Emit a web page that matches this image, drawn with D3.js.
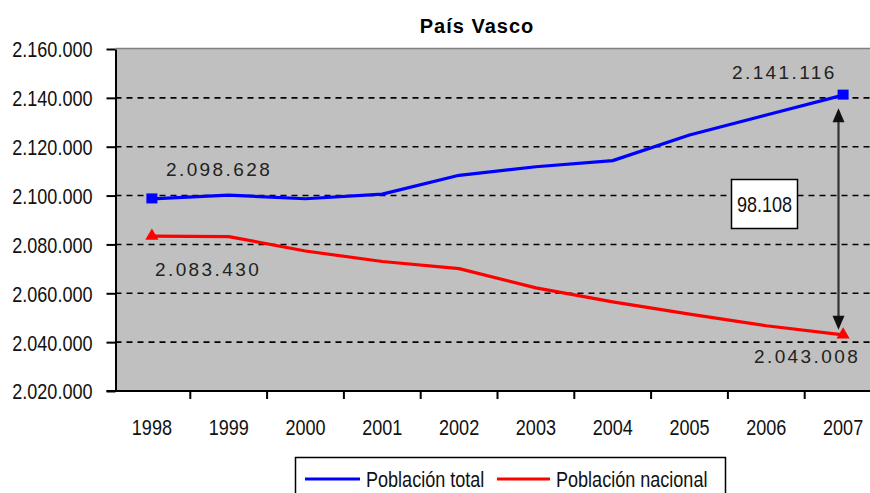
<!DOCTYPE html>
<html><head><meta charset="utf-8">
<script src="https://cdn.jsdelivr.net/npm/d3@7"></script>
<style>
body{margin:0;background:#fff;}
svg{display:block;}
.narrow{font-family:"Liberation Sans",Arial,sans-serif;}
</style></head>
<body><svg id="c" width="870" height="493"></svg>
<script>
const title = "País Vasco";
const years = ["1998","1999","2000","2001","2002","2003","2004","2005","2006","2007"];
const total = [2098628, 2100200, 2098700, 2100600, 2108300, 2111800, 2114300, 2124800, 2133000, 2141116];
const nacional = [2083430, 2083200, 2077300, 2073000, 2070100, 2062200, 2056500, 2051500, 2046700, 2043008];
const yTicks = [2020000, 2040000, 2060000, 2080000, 2100000, 2120000, 2140000, 2160000];
const seriesNames = ["Población total", "Población nacional"];
const seriesColors = ["#0000FF", "#FF0000"];
const diffLabel = "98.108";

(function(){
const loc = d3.formatLocale({decimal:",", thousands:".", grouping:[3], currency:["",""]});
const fmt = loc.format(",d");

const svg = d3.select("#c");
const pLeft = 115.5, pTop = 49, pBottom = 391, pRight = 870;
const NFS = 22, NR = 0.82;

const x = d3.scaleBand().domain(years).range([113.5, 881.5]);
const y = d3.scaleLinear().domain([2020000, 2160000]).range([pBottom, pTop]);
const cx = d => x(d) + x.bandwidth()/2;

// plot area
svg.append("rect").attr("x", pLeft).attr("y", pTop).attr("width", pRight-pLeft).attr("height", pBottom-pTop).attr("fill", "#C0C0C0");
svg.append("line").attr("x1", pLeft).attr("x2", pRight).attr("y1", pTop-0.5).attr("y2", pTop-0.5).attr("stroke", "#808080").attr("stroke-width", 1.5);

// gridlines
svg.append("g").selectAll("line").data(yTicks.filter(t => t > 2020000 && t < 2160000)).join("line")
  .attr("x1", pLeft).attr("x2", pRight)
  .attr("y1", d => y(d)).attr("y2", d => y(d))
  .attr("stroke", "#000").attr("stroke-width", 1.6).attr("stroke-dasharray", "6,5");

// title
svg.append("text").attr("x", 477).attr("y", 33).attr("text-anchor", "middle")
  .attr("font-family", "Liberation Sans, Arial, sans-serif").attr("font-weight", "bold")
  .attr("font-size", 20).attr("letter-spacing", 1).text(title);

// y axis
const yAxis = d3.axisLeft(y).tickValues(yTicks).tickFormat(fmt).tickSize(9).tickSizeOuter(0);
const gy = svg.append("g").attr("transform", `translate(${pLeft},0)`).call(yAxis);
gy.select(".domain").attr("stroke", "#000").attr("stroke-width", 2);
gy.selectAll(".tick line").attr("stroke", "#000").attr("stroke-width", 2);
gy.selectAll(".tick text").attr("class", "narrow").attr("font-size", NFS).attr("fill", "#111")
  .attr("x", -23).attr("dy", "0.36em");

// x axis
const xAxis = d3.axisBottom(x).tickSize(0).tickSizeOuter(0);
const gx = svg.append("g").attr("transform", `translate(0,${pBottom})`).call(xAxis);
gx.select(".domain").remove();
svg.append("line").attr("x1", pLeft-9).attr("x2", pRight).attr("y1", pBottom).attr("y2", pBottom).attr("stroke", "#000").attr("stroke-width", 2);
gx.selectAll(".tick text").attr("class", "narrow").attr("font-size", NFS).attr("fill", "#111").attr("y", 36).attr("dy", "0.36em");
svg.append("g").selectAll("line").data(years.slice(1)).join("line")
  .attr("x1", d => x(d)).attr("x2", d => x(d)).attr("y1", pBottom).attr("y2", pBottom+8)
  .attr("stroke", "#000").attr("stroke-width", 2);

// lines
const line = d3.line().x((d,i) => cx(years[i])).y(d => y(d));
[total, nacional].forEach((s, k) => {
  svg.append("path").datum(s).attr("d", line).attr("fill", "none")
    .attr("stroke", seriesColors[k]).attr("stroke-width", 3.2).attr("stroke-linejoin", "round");
});

// markers at ends
[0, years.length-1].forEach(i => {
  svg.append("rect").attr("x", cx(years[i])-5.5).attr("y", y(total[i])-5.5).attr("width", 11).attr("height", 10).attr("fill", "#0000FF");
  svg.append("path").attr("transform", `translate(${cx(years[i])},${y(nacional[i])})`)
    .attr("d", d3.symbol().type(d3.symbolTriangle).size(75)).attr("fill", "#FF0000");
});

// data labels
const lbl = (tx, ty, t) => svg.append("text").attr("x", tx).attr("y", ty)
  .attr("font-family", "Liberation Sans, Arial, sans-serif").attr("font-size", 19)
  .attr("letter-spacing", 2.4).attr("fill", "#222").text(t);
lbl(166, 176, fmt(total[0]));
lbl(155, 276, fmt(nacional[0]));
lbl(732, 79, fmt(total[9]));
lbl(754, 363, fmt(nacional[9]));

// difference arrow
const ax = 838.5, ay1 = y(total[9]) + 13, ay2 = y(nacional[9]) - 5;
svg.append("line").attr("x1", ax).attr("x2", ax).attr("y1", ay1+10).attr("y2", ay2-10).attr("stroke", "#333").attr("stroke-width", 2.2);
svg.append("path").attr("d", `M${ax},${ay1} L${ax-6},${ay1+14} L${ax+6},${ay1+14}Z`).attr("fill", "#111");
svg.append("path").attr("d", `M${ax},${ay2} L${ax-6},${ay2-14} L${ax+6},${ay2-14}Z`).attr("fill", "#111");

svg.append("rect").attr("x", 731.5).attr("y", 179.5).attr("width", 66).attr("height", 49).attr("fill", "#fff").attr("stroke", "#000").attr("stroke-width", 1.5);
svg.append("text").attr("class", "narrow").attr("x", 764.5).attr("y", 204).attr("dy", "0.36em").attr("text-anchor", "middle")
  .attr("font-size", NFS).attr("fill", "#111").text(diffLabel);

// legend
svg.append("rect").attr("x", 295.5).attr("y", 457.5).attr("width", 430).attr("height", 50).attr("fill", "#fff").attr("stroke", "#000").attr("stroke-width", 1.5);
const legX = [[305, 360, 366], [497, 550, 556]];
seriesNames.forEach((n, k) => {
  svg.append("line").attr("x1", legX[k][0]).attr("x2", legX[k][1]).attr("y1", 479).attr("y2", 479).attr("stroke", seriesColors[k]).attr("stroke-width", 3);
  svg.append("text").attr("class", "narrow").attr("x", legX[k][2]).attr("y", 479).attr("dy", "0.36em")
    .attr("font-size", NFS).attr("fill", "#111").text(n);
});

// condense narrow texts
svg.selectAll("text.narrow").each(function(){
  const w = this.getComputedTextLength();
  d3.select(this).attr("textLength", w*NR).attr("lengthAdjust", "spacingAndGlyphs");
});
})();
</script></body></html>
